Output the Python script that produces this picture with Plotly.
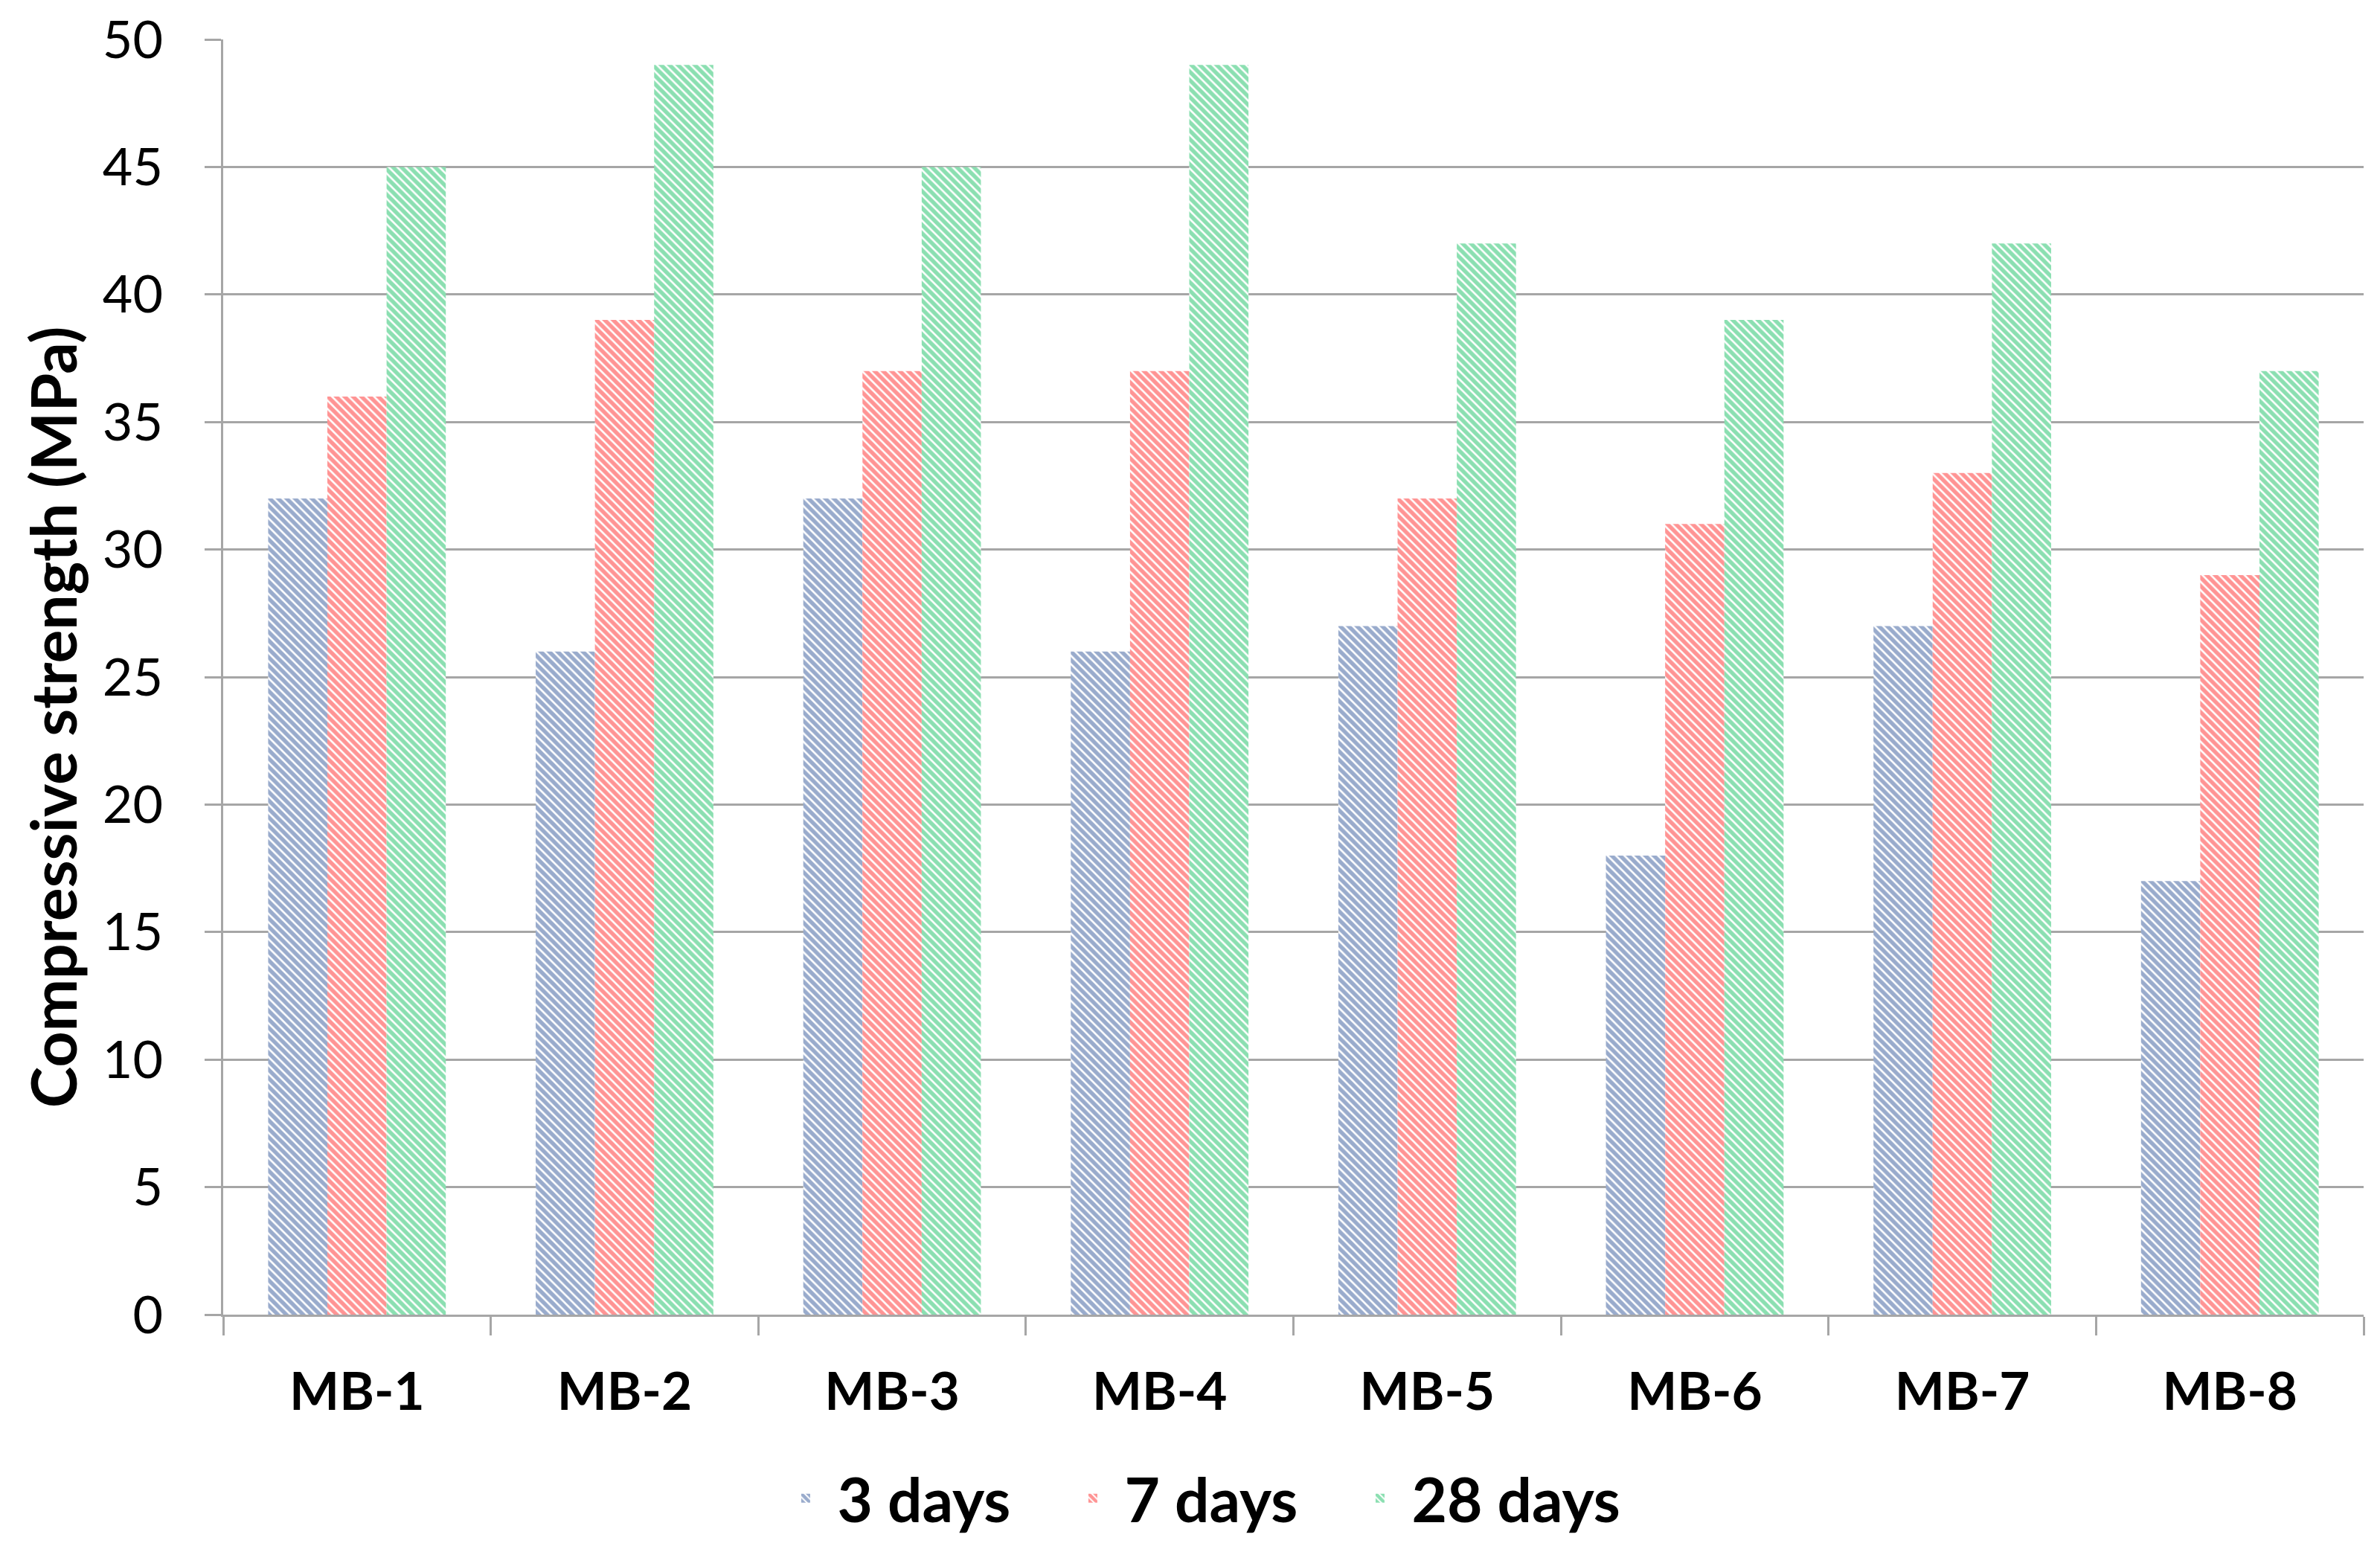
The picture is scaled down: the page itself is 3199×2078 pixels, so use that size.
import plotly.graph_objects as go

categories = ["MB-1", "MB-2", "MB-3", "MB-4", "MB-5", "MB-6", "MB-7", "MB-8"]
series_names = ["3 days", "7 days", "28 days"]
day3 = [32, 26, 32, 26, 27, 18, 27, 17]
day7 = [36, 39, 37, 37, 32, 31, 33, 29]
day28 = [45, 49, 45, 49, 42, 39, 42, 37]
y_ticks = [0, 5, 10, 15, 20, 25, 30, 35, 40, 45, 50]
y_title = "Compressive strength (MPa)"

colors = ["#34589a", "#ff2a2a", "#17c063"]
FONT = "Lato"

fig = go.Figure()
for name, vals, col in zip(series_names, [day3, day7, day28], colors):
    fig.add_trace(go.Bar(
        x=categories, y=vals, name=name,
        marker=dict(
            color="white",
            line=dict(width=0),
            pattern=dict(shape="\\", fgcolor=col, bgcolor="white",
                         size=8, solidity=0.68, fillmode="overlay"),
        ),
    ))

grid = "#a6a6a6"
# page body has an 8px default margin; figure sized to compensate
W, H = 3191, 2070
fig.update_layout(
    width=W, height=H,
    paper_bgcolor="white", plot_bgcolor="white",
    margin=dict(l=292, r=22, t=45, b=311, autoexpand=False),
    barmode="group", bargap=0.336, bargroupgap=0,
    font=dict(family=FONT, color="black"),
    showlegend=True,
    legend=dict(
        orientation="h", xref="container", yref="container",
        x=0.505, xanchor="center", y=0.031, yanchor="middle",
        font=dict(family=FONT, size=82, color="black", weight="bold"),
        itemwidth=75, tracegroupgap=0,
        entrywidth=296, entrywidthmode="pixels",
    ),
    xaxis=dict(
        type="category", showline=True, linecolor=grid, linewidth=3,
        ticks="outside", tickson="boundaries", ticklen=25, tickcolor=grid, tickwidth=3,
        tickfont=dict(family=FONT, size=71, color="black", weight="bold"),
        ticklabelstandoff=40, showgrid=False, zeroline=False,
    ),
    yaxis=dict(
        range=[0, 50], tickvals=y_ticks, showline=True, linecolor=grid, linewidth=3,
        ticks="outside", ticklen=22, tickcolor=grid, tickwidth=3,
        tickfont=dict(family=FONT, size=70, color="black"),
        ticklabelstandoff=42,
        showgrid=True, gridcolor=grid, gridwidth=3, zeroline=False,
    ),
    annotations=[dict(
        text=y_title, textangle=-90, showarrow=False,
        xref="paper", yref="paper", x=-0.0795, y=0.4685,
        xanchor="center", yanchor="middle",
        font=dict(family=FONT, size=84, color="black", weight="bold"),
    )],
)

fig.write_html("out.html")
